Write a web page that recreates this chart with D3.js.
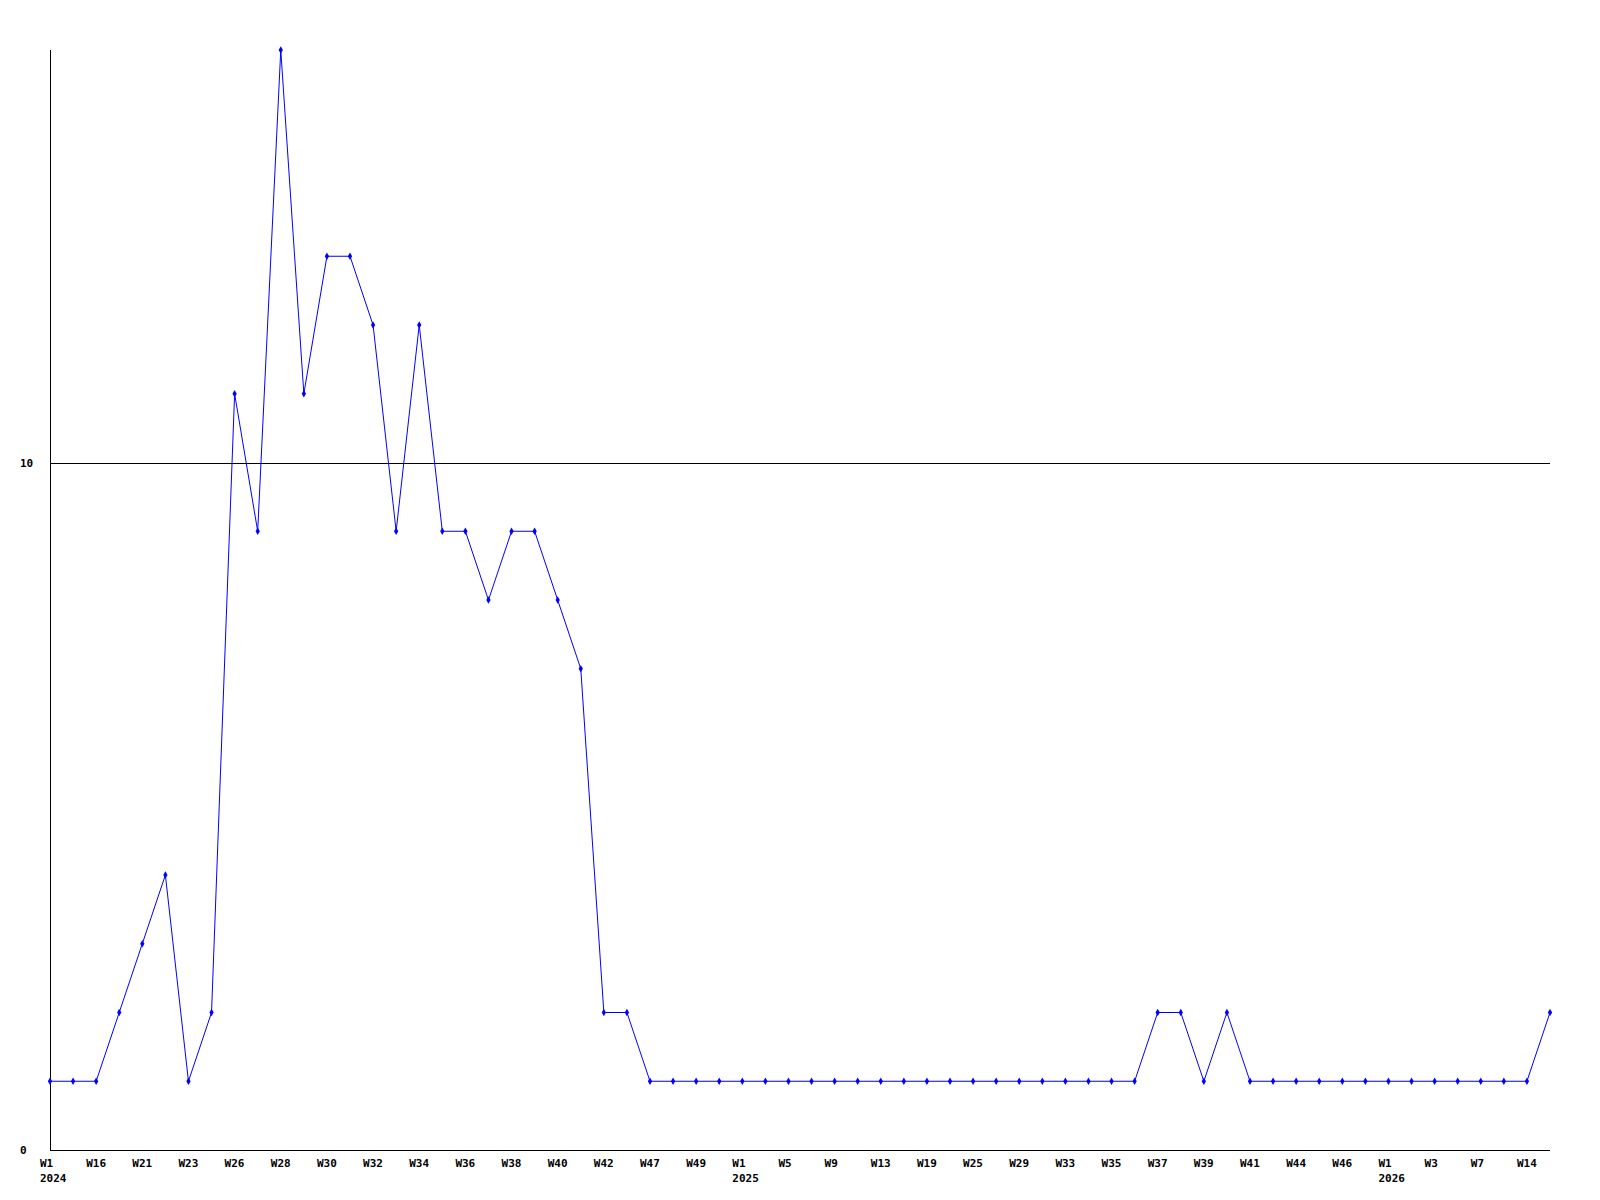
<!DOCTYPE html>
<html><head><meta charset="utf-8">
<script src="https://cdn.jsdelivr.net/npm/d3@7"></script>
<style>body{margin:0;background:#fff}svg text{font-family:"DejaVu Sans Mono","Liberation Mono",monospace;font-weight:bold;font-size:11px}</style>
</head><body>
<script>
const values = [1,1,1,2,3,4,1,2,11,9,16,11,13,13,12,9,12,9,9,8,9,9,8,7,2,2,1,1,1,1,1,1,1,1,1,1,1,1,1,1,1,1,1,1,1,1,1,1,2,2,1,2,1,1,1,1,1,1,1,1,1,1,1,1,1,2];
const tickLabels = ["W1","W16","W21","W23","W26","W28","W30","W32","W34","W36","W38","W40","W42","W47","W49","W1","W5","W9","W13","W19","W25","W29","W33","W35","W37","W39","W41","W44","W46","W1","W3","W7","W14"];
const tickYears = {0:"2024",15:"2025",29:"2026"};
const yTicks = [0,10];

const W=1600,H=1200;
const svg=d3.select("body").append("svg").attr("width",W).attr("height",H);
const x=d3.scaleLinear().domain([0,values.length-1]).range([50,1550]);
const y=d3.scaleLinear().domain([0,16]).range([1150,50]);

// grid line at 10
const gy=Math.round(y(10))+0.5;
svg.append("line").attr("x1",50).attr("x2",1550).attr("y1",gy).attr("y2",gy).attr("stroke","#000").attr("shape-rendering","crispEdges");
// axes
svg.append("line").attr("x1",50.5).attr("x2",50.5).attr("y1",50).attr("y2",1150).attr("stroke","#000").attr("shape-rendering","crispEdges");
svg.append("line").attr("x1",50).attr("x2",1550).attr("y1",1150.5).attr("y2",1150.5).attr("stroke","#000").attr("shape-rendering","crispEdges");

yTicks.forEach(v=>{
  svg.append("text").attr("x",20).attr("y",Math.round(y(v))+4).text(v);
});
tickLabels.forEach((t,i)=>{
  const px=x(i*2)-10;
  svg.append("text").attr("x",px).attr("y",1167).text(t);
  if(tickYears[i]) svg.append("text").attr("x",px).attr("y",1182).text(tickYears[i]);
});

const line=d3.line().x((d,i)=>x(i)).y(d=>y(d));
svg.append("path").datum(values).attr("d",line).attr("fill","none").attr("stroke","#0000ff").attr("stroke-width",1);
svg.selectAll(".m").data(values).enter().append("path")
  .attr("transform",(d,i)=>`translate(${x(i)},${y(d)})`)
  .attr("d",d3.symbol().type(d3.symbolDiamond).size(16))
  .attr("fill","#0000ff");
</script>
</body></html>
